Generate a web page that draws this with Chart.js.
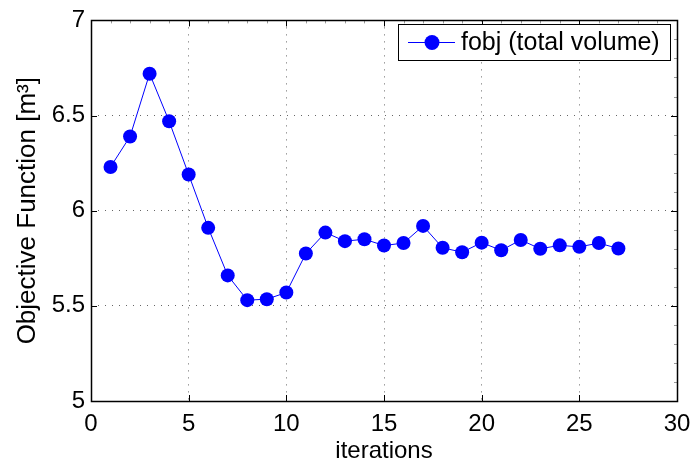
<!DOCTYPE html>
<html>
<head>
<meta charset="utf-8">
<script src="https://cdn.jsdelivr.net/npm/chart.js@4"></script>
<style>
html,body{margin:0;padding:0;background:#fff;}
#wrap{width:694px;height:466px;}
</style>
</head>
<body>
<div id="wrap"><canvas id="c" width="694" height="466"></canvas></div>
<script>
const iterations = [1,2,3,4,5,6,7,8,9,10,11,12,13,14,15,16,17,18,19,20,21,22,23,24,25,26,27];
const fobj = [6.23,6.39,6.72,6.47,6.19,5.91,5.66,5.53,5.535,5.57,5.775,5.885,5.84,5.85,5.817,5.83,5.92,5.805,5.782,5.832,5.792,5.846,5.8,5.818,5.81,5.83,5.801];
const xTicks = [0,5,10,15,20,25,30];
const yTicks = [5,5.5,6,6.5,7];
const seriesLabel = 'fobj (total volume)';

const FONT = 'Liberation Sans, Arial, Helvetica, sans-serif';
const FS = 24;

const boxPlugin = {
  id: 'boxPlugin',
  afterDatasetsDraw(chart) {
    const {ctx, chartArea: a, scales: {x, y}} = chart;
    ctx.save();
    ctx.lineWidth = 1;
    ctx.strokeStyle = 'rgba(0,0,0,0.4)';
    ctx.beginPath();
    for (let v = 0; v <= 30; v += 1) {
      const px = Math.round(x.getPixelForValue(v)) + 0.5;
      ctx.moveTo(px, a.top); ctx.lineTo(px, a.top + 3);
    }
    for (let i = 0; i <= 20; i++) {
      const py = Math.round(y.getPixelForValue(5 + i * 0.1)) + 0.5;
      ctx.moveTo(a.right, py); ctx.lineTo(a.right - 3, py);
    }
    ctx.stroke();
    ctx.strokeStyle = '#000';
    ctx.beginPath();
    xTicks.forEach(v => {
      const px = Math.round(x.getPixelForValue(v)) + 0.5;
      ctx.moveTo(px, a.bottom); ctx.lineTo(px, a.bottom - 6);
      ctx.moveTo(px, a.top); ctx.lineTo(px, a.top + 6);
    });
    yTicks.forEach(v => {
      const py = Math.round(y.getPixelForValue(v)) + 0.5;
      ctx.moveTo(a.left, py); ctx.lineTo(a.left + 6, py);
      ctx.moveTo(a.right, py); ctx.lineTo(a.right - 6, py);
    });
    ctx.stroke();
    ctx.lineWidth = 1.5;
    ctx.strokeRect(Math.round(a.left) + 0.5, Math.round(a.top) + 0.5, Math.round(a.right - a.left), Math.round(a.bottom - a.top));
    ctx.restore();
  }
};

const legendPlugin = {
  id: 'customLegend',
  afterDraw(chart) {
    const {ctx} = chart;
    const lx = 398, ly = 24, lw = 272, lh = 36;
    ctx.save();
    ctx.fillStyle = '#fff';
    ctx.fillRect(lx, ly, lw, lh);
    ctx.strokeStyle = '#000';
    ctx.lineWidth = 1;
    ctx.strokeRect(lx + 0.5, ly + 0.5, lw, lh);
    const cy = ly + lh / 2 + 0.5;
    ctx.strokeStyle = '#0000ff';
    ctx.beginPath();
    ctx.moveTo(lx + 10, cy); ctx.lineTo(lx + 57, cy);
    ctx.stroke();
    ctx.fillStyle = '#0000ff';
    ctx.beginPath();
    ctx.arc(lx + 34, cy, 7.5, 0, Math.PI * 2);
    ctx.fill();
    ctx.fillStyle = '#000';
    ctx.font = '25px ' + FONT;
    ctx.textBaseline = 'middle';
    ctx.fillText(seriesLabel, lx + 63, cy + 1);
    ctx.restore();
  }
};

new Chart(document.getElementById('c'), {
  type: 'line',
  data: {
    datasets: [{
      label: seriesLabel,
      data: iterations.map((it, i) => ({x: it, y: fobj[i]})),
      borderColor: '#0000ff',
      backgroundColor: '#0000ff',
      borderWidth: 1,
      pointRadius: 7,
      pointHoverRadius: 7,
      pointBorderWidth: 0,
      tension: 0,
      fill: false
    }]
  },
  options: {
    responsive: false,
    animation: false,
    layout: {padding: {top: 15, right: 17, left: 0, bottom: 0}},
    plugins: {legend: {display: false}, tooltip: {enabled: false}},
    scales: {
      x: {
        type: 'linear', min: 0, max: 30,
        afterBuildTicks: s => { s.ticks = xTicks.map(v => ({value: v})); },
        afterFit: s => { s.height = 65; s.paddingLeft = 0; s.paddingRight = 0; },
        grid: {color: 'rgba(0,0,0,0.6)', drawTicks: false, lineWidth: 1},
        border: {display: false, dash: [1, 6]},
        ticks: {font: {size: FS, family: FONT}, color: '#000', padding: 9, maxRotation: 0},
        title: {display: true, text: 'iterations', font: {size: FS, family: FONT}, color: '#000', padding: {top: -14, bottom: 0}}
      },
      y: {
        type: 'linear', min: 5, max: 7,
        afterBuildTicks: s => { s.ticks = yTicks.map(v => ({value: v})); },
        afterFit: s => { s.width = 91; },
        grid: {color: 'rgba(0,0,0,0.6)', drawTicks: false, lineWidth: 1},
        border: {display: false, dash: [1, 6]},
        ticks: {font: {size: FS, family: FONT}, color: '#000', padding: 6, callback: v => String(v)},
        title: {display: true, text: 'Objective Function [m³]', font: {size: 26, family: FONT}, color: '#000', padding: {top: 12, bottom: 0}}
      }
    }
  },
  plugins: [boxPlugin, legendPlugin]
});
</script>
</body>
</html>
